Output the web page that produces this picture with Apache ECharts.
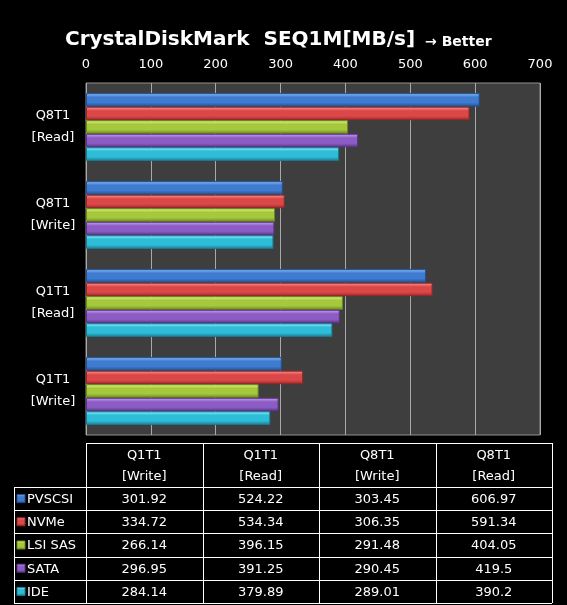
<!DOCTYPE html>
<html>
<head>
<meta charset="utf-8">
<style>
html,body{margin:0;padding:0;background:#000;}
#main{width:567px;height:605px;}
</style>
<script src="https://cdn.jsdelivr.net/npm/echarts@6/dist/echarts.min.js"></script>
</head>
<body>
<div id="main"></div>
<script>
/* data, in the order of the table columns (bottom category first) */
var categories = ['Q1T1\n[Write]', 'Q1T1\n[Read]', 'Q8T1\n[Write]', 'Q8T1\n[Read]'];
var seriesNames = ['PVSCSI', 'NVMe', 'LSI SAS', 'SATA', 'IDE'];
var pvscsi = [301.92, 524.22, 303.45, 606.97];
var nvme = [334.72, 534.34, 306.35, 591.34];
var lsisas = [266.14, 396.15, 291.48, 404.05];
var sata = [296.95, 391.25, 290.45, 419.5];
var ide = [284.14, 379.89, 289.01, 390.2];
var tableValues = [pvscsi, nvme, lsisas, sata, ide];

/* light / base / dark per series */
var colors = [
    ['#8cc0ff', '#3f7bd0', '#24508e'],
    ['#ff9a9a', '#dc4848', '#962828'],
    ['#e8fa8a', '#a6c83c', '#6c8a1c'],
    ['#d0a8f8', '#8c5cc4', '#5a3486'],
    ['#8cf6ff', '#2fbcd8', '#1a7c92']
];

var font = 'DejaVu Sans';

function barColor(c){
    return new echarts.graphic.LinearGradient(0, 0, 0, 1, [
        {offset: 0, color: c[0]},
        {offset: 0.3, color: c[1]},
        {offset: 0.7, color: c[1]},
        {offset: 1, color: c[2]}
    ]);
}

var series = [];
seriesNames.forEach(function(name, i){
    series.push({
        name: name,
        type: 'bar',
        data: tableValues[i],
        barGap: '0%',
        barCategoryGap: '23%',
        itemStyle: {
            color: barColor(colors[i]),
            borderColor: colors[i][2],
            borderWidth: 1
        },
        animation: false
    });
});

/* table drawn with graphic elements */
var tblLeft = 14, tblColX = 86, tblRight = 552;
var tblTop = 443, headH = 44, rowH = 23.2;
var colW = (tblRight - tblColX) / categories.length;
var graphics = [];
var lineStyle = {stroke: '#fff', lineWidth: 1};

function hline(x1, x2, y){
    graphics.push({type: 'line', shape: {x1: x1, y1: y, x2: x2, y2: y}, style: lineStyle, silent: true});
}
function vline(x, y1, y2){
    graphics.push({type: 'line', shape: {x1: x, y1: y1, x2: x, y2: y2}, style: lineStyle, silent: true});
}

var tblBottom = tblTop + headH + rowH * seriesNames.length;
hline(tblColX, tblRight, tblTop + 0.5);
for(var r = 0; r <= seriesNames.length; r++){
    hline(tblLeft, tblRight, Math.round(tblTop + headH + rowH * r) + 0.5);
}
vline(tblLeft + 0.5, tblTop + headH, tblBottom);
for(var c = 0; c <= categories.length; c++){
    vline(Math.round(tblColX + colW * c) + 0.5, tblTop, tblBottom);
}
categories.forEach(function(cat, c){
    graphics.push({
        type: 'text',
        x: tblColX + colW * (c + 0.5),
        y: tblTop + headH / 2 + 1,
        style: {text: cat, fill: '#fff', font: '13px ' + font, align: 'center', verticalAlign: 'middle', lineHeight: 21},
        silent: true
    });
});
seriesNames.forEach(function(name, r){
    var cy = tblTop + headH + rowH * (r + 0.5);
    graphics.push({
        type: 'rect',
        shape: {x: 17, y: cy - 4, width: 8, height: 8},
        style: {fill: barColor(colors[r]), stroke: colors[r][2], lineWidth: 1},
        silent: true
    });
    graphics.push({
        type: 'text', x: 27, y: cy + 1,
        style: {text: name, fill: '#fff', font: '13px ' + font, align: 'left', verticalAlign: 'middle'},
        silent: true
    });
    tableValues[r].forEach(function(v, c){
        graphics.push({
            type: 'text',
            x: tblColX + colW * (c + 0.5),
            y: cy + 1,
            style: {text: String(v), fill: '#fff', font: '13px ' + font, align: 'center', verticalAlign: 'middle'},
            silent: true
        });
    });
});

var option = {
    backgroundColor: '#000',
    title: {
        text: '{a|CrystalDiskMark  SEQ1M[MB/s]}  {b|→ Better}',
        left: 60,
        top: 25,
        textStyle: {
            rich: {
                a: {color: '#fff', fontFamily: font, fontWeight: 'bold', fontSize: 20},
                b: {color: '#fff', fontFamily: font, fontWeight: 'bold', fontSize: 14, padding: [4, 0, 0, 0]}
            }
        }
    },
    grid: {
        left: 86,
        right: 27,
        top: 83,
        bottom: 170,
        show: true,
        backgroundColor: '#3e3e3e',
        borderColor: '#909090',
        borderWidth: 1
    },
    xAxis: {
        type: 'value',
        position: 'top',
        min: 0,
        max: 700,
        interval: 100,
        axisLine: {show: false},
        axisTick: {show: false},
        axisLabel: {color: '#fff', fontFamily: font, fontSize: 13, margin: 12},
        splitLine: {show: true, lineStyle: {color: '#a8a8a8', width: 1}}
    },
    yAxis: {
        type: 'category',
        data: categories,
        axisLine: {show: false},
        axisTick: {show: false},
        splitLine: {show: false},
        axisLabel: {color: '#fff', fontFamily: font, fontSize: 13, lineHeight: 22, align: 'center', margin: 33}
    },
    series: series,
    graphic: graphics
};

var myChart = echarts.init(document.getElementById('main'));
myChart.setOption(option);
</script>
</body>
</html>
